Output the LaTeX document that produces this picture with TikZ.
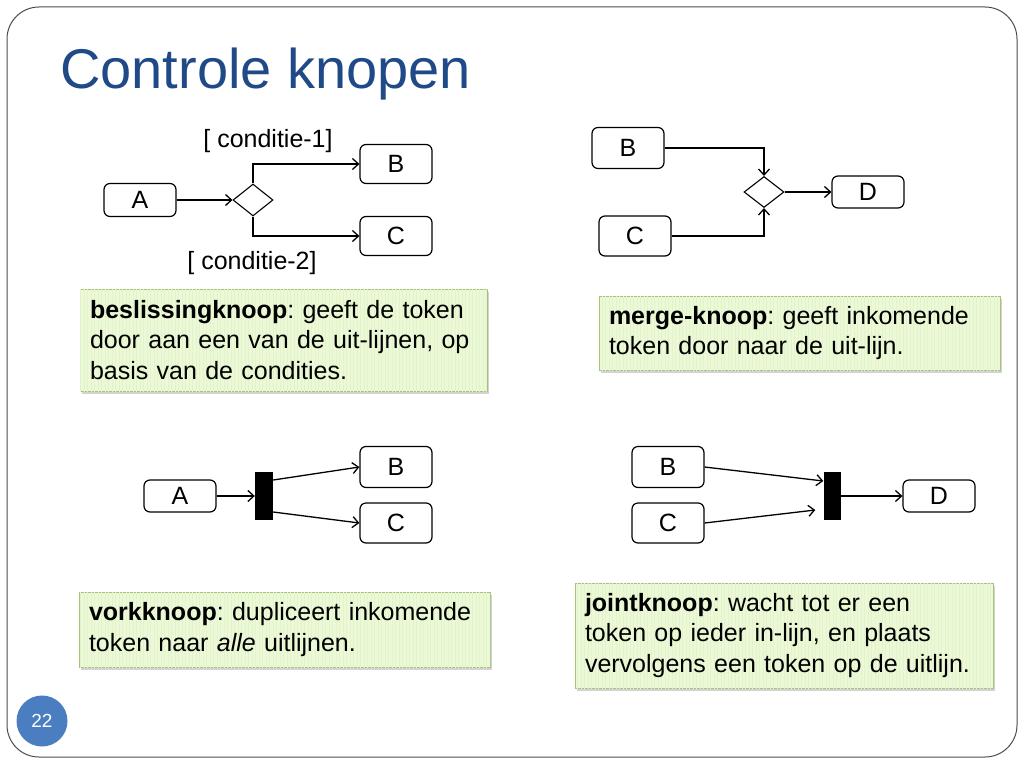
\documentclass[tikz,border=0pt]{standalone}
\usepackage{fontspec}
\setmainfont{Liberation Sans}
\usetikzlibrary{shapes.geometric,arrows.meta,shadows,patterns.meta}
\definecolor{titleblue}{HTML}{1F4A87}
\definecolor{notefill}{HTML}{ECF9D6}
\definecolor{noteline}{HTML}{A6C27C}
\definecolor{notestripe}{HTML}{E3F3CC}
\definecolor{pageblue}{HTML}{4A7EC0}
\frenchspacing

\begin{document}
\begin{tikzpicture}[x=1pt,y=-1pt,
  >={Straight Barb[length=6pt,width=11pt]},
  box/.style={draw,rounded corners=6pt,line width=1.2pt,minimum width=72pt,inner sep=0pt,font=\fontsize{25}{28}\selectfont},
  keuze/.style={draw,diamond,minimum width=40pt,minimum height=32pt,inner sep=0pt,line width=1.1pt},
  balk/.style={fill=black,minimum width=18pt,minimum height=48pt,inner sep=0pt},
  lijn/.style={->,line width=1.3pt},
  conditie/.style={font=\fontsize{25}{28}\selectfont,inner sep=0pt},
  notitie/.style={draw=noteline,fill=notefill,line width=0.8pt,
    drop shadow={shadow xshift=2pt,shadow yshift=-3pt,opacity=0.35},
    postaction={pattern={Lines[angle=90,distance=3.5pt,line width=0.4pt]},pattern color=notestripe},
    inner xsep=10pt,inner ysep=0pt,align=left,font=\fontsize{25}{30.5}\selectfont}]
 \useasboundingbox (0,0) rectangle (1024,768);
 % slide frame
 \draw[line width=1pt,black!70,rounded corners=32pt] (7,7) rectangle (1017,757);
 \node[anchor=base west,inner sep=0pt,text=titleblue,font=\fontsize{56}{60}\selectfont] (titel) at (60,88) {Controle knopen};

 % beslissingknoop
 \node[box,minimum height=33pt] (a1) at (140,200) {A};
 \node[keuze] (beslis) at (253,200) {};
 \node[box,minimum height=39pt] (b1) at (396,164) {B};
 \node[box,minimum height=39pt] (c1) at (396,236) {C};
 \draw[lijn] (a1) -- (beslis);
 \draw[lijn] (beslis.north) |- (b1);
 \draw[lijn] (beslis.south) |- (c1);
 \node[conditie] (cond1) at (268,141) {[ conditie-1]};
 \node[conditie] (cond2) at (252,263) {[ conditie-2]};
 \node[notitie,text width=387pt,minimum height=102pt] (n1) at (283.5,340)
  {\textbf{beslissingknoop}: geeft de token\\door aan een van de uit-lijnen, op\\basis van de condities.};

 % merge-knoop
 \node[box,minimum height=41pt] (b2) at (628,148) {B};
 \node[box,minimum height=40pt] (c2) at (635,236) {C};
 \node[keuze,minimum height=31pt] (merge) at (764,192) {};
 \node[box,minimum height=32pt] (d2) at (868,192) {D};
 \draw[lijn] (b2) -| (merge.north);
 \draw[lijn] (c2) -| (merge.south);
 \draw[lijn] (merge) -- (d2);
 \node[notitie,text width=381pt,minimum height=74pt] (n2) at (799.5,333)
  {\textbf{merge-knoop}: geeft inkomende\\token door naar de uit-lijn.};

 % vorkknoop
 \node[box,minimum height=32pt] (a3) at (180,496) {A};
 \node[balk] (vork) at (264,496) {};
 \node[box,minimum height=41pt] (b3) at (396,467) {B};
 \node[box,minimum height=40pt] (c3) at (396,523) {C};
 \draw[lijn] (a3) -- (vork);
 \draw[lijn] ([yshift=16pt]vork.east) -- (b3.west);
 \draw[lijn] ([yshift=-16pt]vork.east) -- (c3.west);
 \node[notitie,text width=391pt,minimum height=75pt] (n3) at (284.5,629.5)
  {\textbf{vorkknoop}: dupliceert inkomende\\token naar \textit{alle} uitlijnen.};

 % jointknoop
 \node[box,minimum height=41pt] (b4) at (668,467) {B};
 \node[box,minimum height=40pt] (c4) at (668,523) {C};
 \node[balk,minimum width=17pt] (joint) at (832,496) {};
 \node[box,minimum height=32pt] (d4) at (939,496) {D};
 \draw[lijn] (b4.east) -- ([yshift=15pt]joint.west);
 \draw[lijn] (c4.east) -- ([xshift=-8pt,yshift=-14pt]joint.west);
 \draw[lijn] (joint) -- (d4);
 \node[notitie,text width=398pt,minimum height=105pt] (n4) at (784,635.5)
  {\textbf{jointknoop}: wacht tot er een\\token op ieder in-lijn, en plaats\\vervolgens een token op de uitlijn.};

 \node[circle,fill=pageblue,minimum size=51pt,inner sep=0pt,text=white,font=\fontsize{19}{22}\selectfont] (pagina) at (42,721) {22};
\end{tikzpicture}
\end{document}
